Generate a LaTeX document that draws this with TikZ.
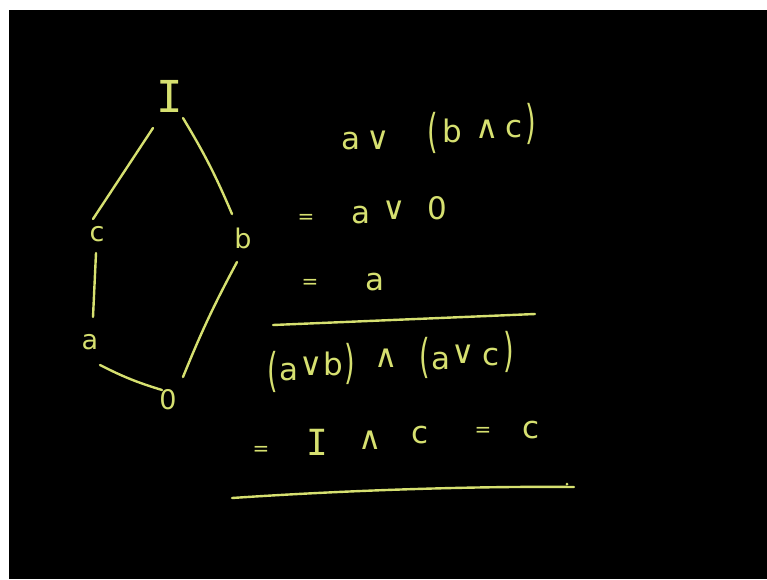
\documentclass[tikz,border=0pt]{standalone}
\usepackage{fontspec}
\usepackage{graphicx}
\setmainfont{DejaVu Sans}
\newfontfamily\monoI{DejaVu Sans Mono}
\definecolor{chalk}{RGB}{214,224,112}
\newcommand{\tallparen}[1]{\scalebox{0.85}[1.45]{#1}}
\begin{document}
\begin{tikzpicture}[x=1pt,y=-1pt,
  sym/.style={text=chalk,inner sep=0pt,font=\fontsize{31}{31}\selectfont},
  op/.style={text=chalk,inner sep=0pt,font=\fontsize{32}{32}\selectfont},
  eqs/.style={text=chalk,inner sep=0pt,font=\fontsize{20}{20}\selectfont},
  par/.style={text=chalk,inner sep=0pt,font=\fontsize{32}{32}\selectfont},
  bigI/.style={text=chalk,inner sep=0pt,font=\monoI\fontsize{36}{36}\selectfont},
  lab/.style={text=chalk,inner sep=0pt,font=\fontsize{27}{27}\selectfont},
  edge/.style={draw=chalk,line width=2.4pt,line cap=round},
  rule/.style={draw=chalk,line width=2.4pt,line cap=round}]
\useasboundingbox (0,0) rectangle (767,579);
\fill[white] (0,0) rectangle (767,579);
\fill[black] (9,10) rectangle (767,579);
% lattice
\node[bigI,font=\monoI\fontsize{44}{44}\selectfont] (I) at (170,96) {I};
\node[lab] (c) at (97,234) {c};
\node[lab] (b) at (243,238) {b};
\node[lab] (a) at (90,342) {a};
\node[lab] (z) at (168,400) {0};
\coordinate (I1) at (153,128); \coordinate (c1) at (93,219);
\coordinate (I2) at (183,118); \coordinate (b1) at (232,214);
\coordinate (c2) at (96,253);  \coordinate (a1) at (93,317);
\coordinate (a2) at (100,365); \coordinate (z1) at (162,390);
\coordinate (b2) at (237,262); \coordinate (z2) at (183,377);
\draw[edge] (I1) -- (c1);
\draw[edge] (I2) to[bend left=4] (b1);
\draw[edge] (c2) -- (a1);
\draw[edge] (a2) to[bend right=5] (z1);
\draw[edge] (b2) to[bend right=3] (z2);
% line 1
\node[sym] (l1a) at (351,141) {a};
\node[op] (l1v) at (378,140) {∨};
\node[par] (l1p) at (433,133) {\tallparen{(}};
\node[sym] (l1b) at (452,131) {b};
\node[op] (l1w) at (487,129) {∧};
\node[sym] (l1c) at (514,129) {c};
\node[par] (l1q) at (531,124) {\tallparen{)}};
% line 2
\node[eqs] (l2e) at (306,219) {=};
\node[sym] (l2a) at (361,215) {a};
\node[op] (l2v) at (394,210) {∨};
\node[sym] (l2z) at (437,208) {0};
% line 3
\node[eqs] (l3e) at (310,284) {=};
\node[sym] (l3a) at (375,282) {a};
\coordinate (r1s) at (273,325); \coordinate (r1e) at (535,314);
\draw[rule] (r1s) -- (r1e);
% line 4
\node[par] (l4p) at (273,372) {\tallparen{(}};
\node[sym] (l4a) at (289,372) {a};
\node[op] (l4v) at (311,366) {∨};
\node[sym] (l4b) at (333,364) {b};
\node[par] (l4q) at (350,364) {\tallparen{)}};
\node[op] (l4w) at (386,358) {∧};
\node[par] (l4r) at (425,358) {\tallparen{(}};
\node[sym] (l4a2) at (441,361) {a};
\node[op] (l4v2) at (463,354) {∨};
\node[sym] (l4c) at (491,357) {c};
\node[par] (l4s) at (509,352) {\tallparen{)}};
% line 5
\node[eqs] (l5e) at (261,451) {=};
\node[bigI] (l5I) at (317,442) {I};
\node[op] (l5w) at (370,440) {∧};
\node[sym] (l5c) at (420,435) {c};
\node[eqs] (l5e2) at (483,432) {=};
\node[sym] (l5c2) at (531,430) {c};
\coordinate (r2s) at (232,498); \coordinate (r2e) at (574,487);
\draw[rule] (r2s) .. controls (350,490) and (480,486) .. (r2e);
\coordinate (dot) at (567,484);
\fill[chalk] (dot) circle (1.5);
\end{tikzpicture}
\end{document}
